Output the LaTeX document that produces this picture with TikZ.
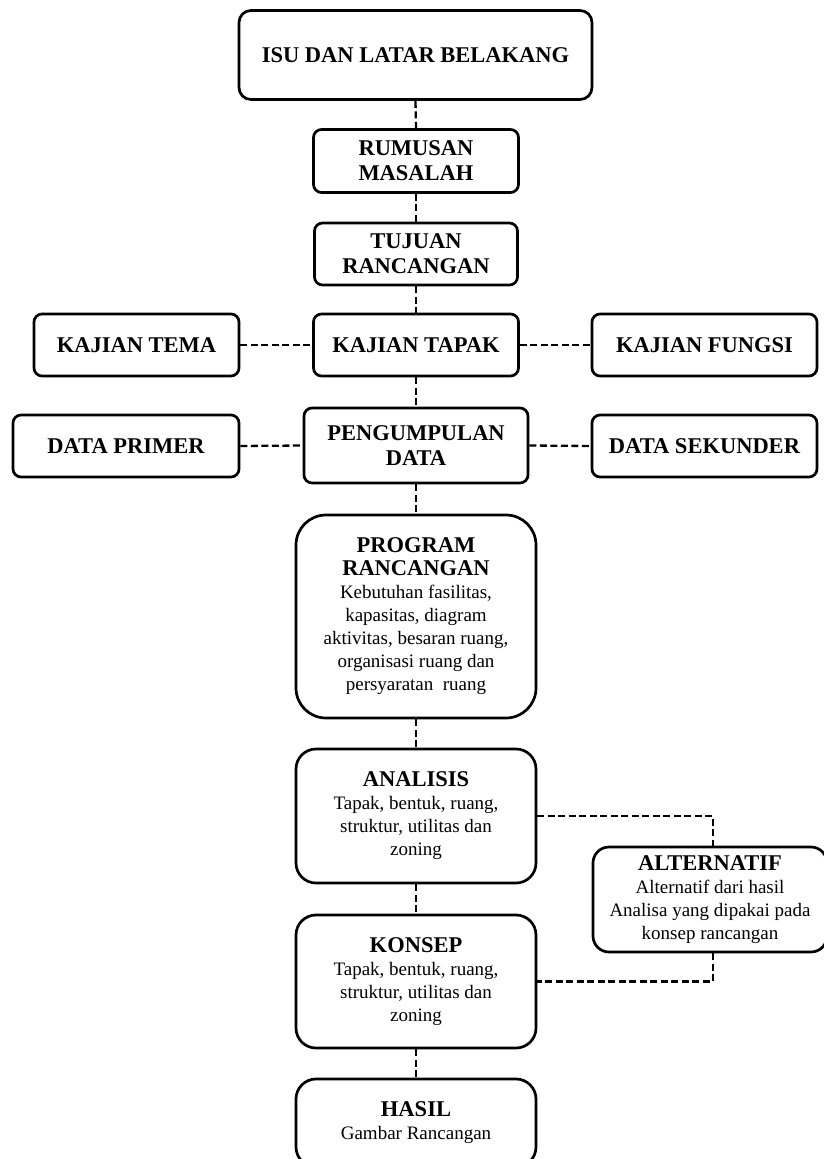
\documentclass[tikz,border=0pt]{standalone}
\usepackage{fontspec}
\setmainfont{Liberation Serif}

\begin{document}
\begin{tikzpicture}[x=1pt,y=-1pt]
    \providecommand{\headfont}{\fontsize{22.5}{25}\selectfont\bfseries}
    \providecommand{\bodyfont}{\fontsize{19}{23}\selectfont}
    \pgfmathsetmacro{\colwidth}{240}
    \pgfmathsetmacro{\sidewidth}{225}
    \pgfmathsetmacro{\rowheight}{62}
    \tikzset{
        box/.style={draw,line width=2.7pt,rounded corners=#1,inner sep=0,align=center,font=\headfont},
        box/.default=8pt,
        infobox/.style={box=#1,font=\bodyfont},
        link/.style={line width=2.3pt,dash pattern=on 7pt off 3.5pt}
    }
    \useasboundingbox (0,0) rectangle (824,1159);
    % upper chain
    \node[box=12pt,minimum width=353pt,minimum height=89pt] (isu) at (415.5,55) {ISU DAN LATAR BELAKANG};
    \node[box,minimum width=205pt,minimum height=63pt] (rumusan) at (416,161) {RUMUSAN\\MASALAH};
    \node[box,minimum width=203pt,minimum height=\rowheight pt] (tujuan) at (416,254) {TUJUAN\\RANCANGAN};
    \node[box,minimum width=205pt,minimum height=\rowheight pt] (tapak) at (416,345) {KAJIAN TAPAK};
    \node[box,minimum width=205pt,minimum height=\rowheight pt] (tema) at (136.5,345) {KAJIAN TEMA};
    \node[box,minimum width=\sidewidth pt,minimum height=\rowheight pt] (fungsi) at (704.5,345) {KAJIAN FUNGSI};
    \node[box,minimum width=224pt,minimum height=75pt] (kumpul) at (416,445.5) {PENGUMPULAN\\DATA};
    \node[box,minimum width=226pt,minimum height=\rowheight pt] (primer) at (126,446) {DATA PRIMER};
    \node[box,minimum width=\sidewidth pt,minimum height=\rowheight pt] (sekunder) at (704.5,446) {DATA SEKUNDER};
    % lower chain
    \node[infobox=30pt,minimum width=\colwidth pt,minimum height=203pt] (program) at (416,616.5)
        {{\headfont PROGRAM}\\{\headfont RANCANGAN}\\Kebutuhan fasilitas,\\kapasitas, diagram\\aktivitas, besaran ruang,\\organisasi ruang dan\\persyaratan\ \ ruang};
    \node[infobox=20pt,minimum width=\colwidth pt,minimum height=134pt] (analisis) at (416,816)
        {{\headfont ANALISIS}\\Tapak, bentuk, ruang,\\struktur, utilitas dan\\zoning};
    \node[infobox=20pt,minimum width=\colwidth pt,minimum height=133pt] (konsep) at (416,981.5)
        {{\headfont KONSEP}\\Tapak, bentuk, ruang,\\struktur, utilitas dan\\zoning};
    \node[infobox=20pt,minimum width=\colwidth pt,minimum height=88pt] (hasil) at (416,1123)
        {{\headfont HASIL}\\Gambar Rancangan};
    \node[infobox=16pt,minimum width=234pt,minimum height=105pt] (alternatif) at (710,899.5)
        {{\headfont ALTERNATIF}\\Alternatif dari hasil\\Analisa yang dipakai pada\\konsep rancangan};
    % connectors
    \draw[link] (isu.south) -- (rumusan.north);
    \draw[link] (rumusan.south) -- (tujuan.north);
    \draw[link] (tujuan.south) -- (tapak.north);
    \draw[link] (tema.east) -- (tapak.west);
    \draw[link] (tapak.east) -- (fungsi.west);
    \draw[link] (tapak.south) -- (kumpul.north);
    \draw[link] (primer.east) -- (kumpul.west);
    \draw[link] (kumpul.east) -- (sekunder.west);
    \draw[link] (kumpul.south) -- (program.north);
    \draw[link] (program.south) -- (analisis.north);
    \draw[link] (analisis.south) -- (konsep.north);
    \draw[link] (konsep.south) -- (hasil.north);
    \draw[link] (analisis.east) -| ([xshift=3pt]alternatif.north);
    \draw[link] ([xshift=3pt]alternatif.south) |- (konsep.east);
\end{tikzpicture}
\end{document}
